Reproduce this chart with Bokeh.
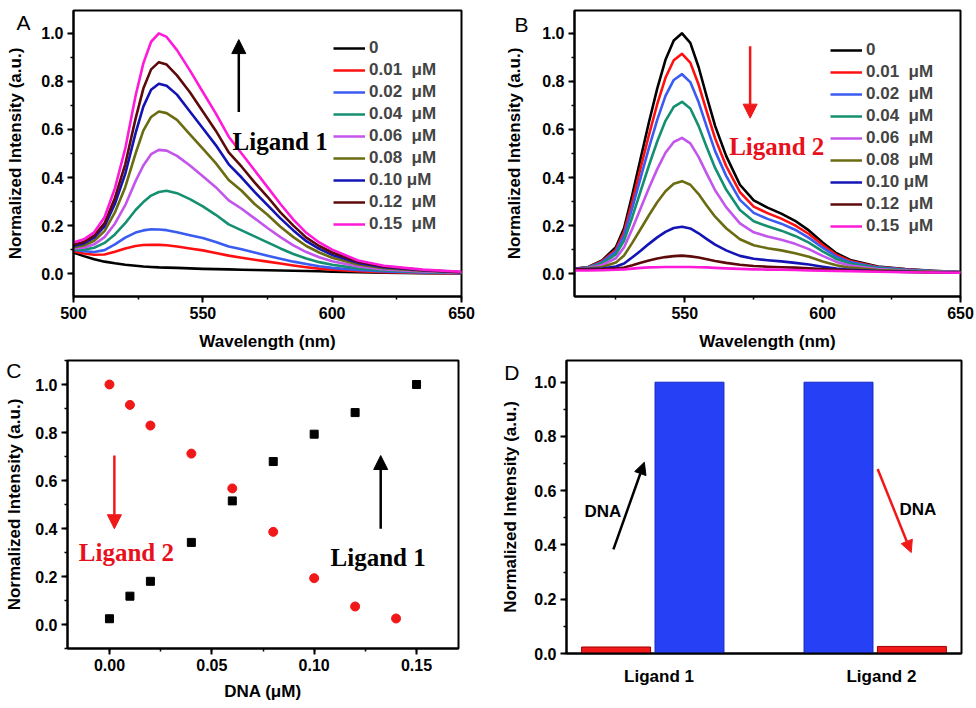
from bokeh.plotting import figure
from bokeh.layouts import column, row
from bokeh.models import (Range1d, SingleIntervalTicker, FixedTicker, NumeralTickFormatter, LinearAxis,
                          Label, Arrow, NormalHead, Legend, LegendItem, ColumnDataSource)
from bokeh.transform import dodge
from bokeh.embed import file_html
from bokeh.resources import INLINE

SANS = "Liberation Sans"
SERIF = "Liberation Serif"
Y_TITLE = "Normalized Intensity (a.u.)"

# ---------------- data ----------------
conc_labels = ["0", "0.01\u00a0\u00a0μM", "0.02\u00a0\u00a0μM", "0.04\u00a0\u00a0μM", "0.06\u00a0\u00a0μM",
               "0.08\u00a0\u00a0μM", "0.10 μM", "0.12\u00a0\u00a0μM", "0.15\u00a0\u00a0μM"]
curve_colors = ["#000000", "#ff1010", "#3a5cf0", "#149070", "#c455ec",
                "#6b6b12", "#1414b4", "#5c0a0a", "#ff1ad9"]

# Panel A: Ligand 1 spectra
wl_a = [500, 504, 508, 512, 516, 520, 524, 527, 530, 533, 536, 540, 545, 550,
        555, 560, 565, 570, 575, 580, 585, 590, 595, 600, 610, 620, 635, 650]
a_000 = [0.088, 0.073, 0.06, 0.05, 0.043, 0.037, 0.033, 0.03, 0.028, 0.026, 0.025, 0.024, 0.022, 0.02,
         0.019, 0.018, 0.016, 0.015, 0.014, 0.013, 0.012, 0.011, 0.01, 0.008, 0.006, 0.004, 0.002, 0.001]
a_001 = [0.092, 0.084, 0.079, 0.08, 0.091, 0.105, 0.115, 0.119, 0.12, 0.12, 0.118, 0.113, 0.105, 0.097,
         0.086, 0.075, 0.066, 0.058, 0.05, 0.042, 0.034, 0.027, 0.021, 0.017, 0.01, 0.006, 0.003, 0.001]
a_002 = [0.10, 0.093, 0.09, 0.098, 0.122, 0.15, 0.171, 0.18, 0.185, 0.184, 0.181, 0.172, 0.16, 0.148,
         0.132, 0.113, 0.102, 0.088, 0.075, 0.062, 0.05, 0.04, 0.031, 0.024, 0.015, 0.009, 0.005, 0.002]
a_004 = [0.10, 0.10, 0.108, 0.128, 0.163, 0.21, 0.265, 0.298, 0.325, 0.34, 0.345, 0.335, 0.31, 0.28,
         0.245, 0.205, 0.18, 0.155, 0.13, 0.105, 0.082, 0.063, 0.048, 0.037, 0.022, 0.013, 0.007, 0.003]
a_006 = [0.105, 0.108, 0.122, 0.152, 0.208, 0.285, 0.385, 0.45, 0.497, 0.515, 0.512, 0.49, 0.45, 0.405,
         0.36, 0.305, 0.27, 0.23, 0.19, 0.152, 0.118, 0.09, 0.068, 0.052, 0.03, 0.018, 0.009, 0.004]
a_008 = [0.11, 0.117, 0.137, 0.177, 0.255, 0.36, 0.5, 0.595, 0.652, 0.675, 0.668, 0.64, 0.58, 0.52,
         0.46, 0.39, 0.345, 0.29, 0.245, 0.195, 0.152, 0.115, 0.088, 0.066, 0.038, 0.023, 0.012, 0.005]
a_010 = [0.115, 0.126, 0.15, 0.197, 0.29, 0.415, 0.585, 0.695, 0.765, 0.79, 0.782, 0.745, 0.675, 0.605,
         0.535, 0.455, 0.4, 0.34, 0.285, 0.23, 0.18, 0.135, 0.103, 0.078, 0.045, 0.027, 0.014, 0.006]
a_012 = [0.12, 0.132, 0.158, 0.21, 0.315, 0.455, 0.645, 0.77, 0.85, 0.88, 0.87, 0.825, 0.755, 0.675,
         0.595, 0.505, 0.445, 0.38, 0.32, 0.255, 0.2, 0.15, 0.115, 0.088, 0.05, 0.03, 0.015, 0.007]
a_015 = [0.13, 0.143, 0.172, 0.235, 0.355, 0.52, 0.74, 0.875, 0.965, 1.0, 0.985, 0.93, 0.846, 0.756,
         0.667, 0.57, 0.50, 0.43, 0.36, 0.29, 0.225, 0.17, 0.13, 0.10, 0.055, 0.033, 0.017, 0.008]

# Panel B: Ligand 2 spectra
wl_b = [510, 515, 520, 525, 528, 531, 534, 537, 540, 543, 546, 549, 552, 555, 558,
        561, 565, 570, 575, 580, 585, 590, 595, 600, 605, 610, 620, 630, 640, 650]
b_000 = [0.02, 0.028, 0.055, 0.11, 0.19, 0.33, 0.48, 0.63, 0.77, 0.89, 0.97, 1.0, 0.96, 0.86, 0.735,
         0.615, 0.49, 0.37, 0.305, 0.275, 0.25, 0.22, 0.18, 0.13, 0.085, 0.057, 0.03, 0.019, 0.012, 0.007]
b_001 = [0.02, 0.027, 0.052, 0.1, 0.175, 0.302, 0.44, 0.577, 0.705, 0.815, 0.888, 0.915, 0.878, 0.787, 0.673,
         0.563, 0.448, 0.339, 0.279, 0.252, 0.229, 0.201, 0.165, 0.119, 0.078, 0.053, 0.028, 0.018, 0.011, 0.007]
b_002 = [0.02, 0.026, 0.048, 0.092, 0.16, 0.275, 0.4, 0.523, 0.64, 0.74, 0.806, 0.83, 0.797, 0.714, 0.61,
         0.51, 0.407, 0.307, 0.253, 0.228, 0.208, 0.183, 0.149, 0.108, 0.071, 0.048, 0.026, 0.017, 0.011, 0.007]
b_004 = [0.02, 0.025, 0.043, 0.08, 0.138, 0.237, 0.344, 0.45, 0.55, 0.636, 0.694, 0.715, 0.687, 0.615, 0.525,
         0.44, 0.35, 0.265, 0.218, 0.197, 0.179, 0.157, 0.129, 0.093, 0.061, 0.042, 0.023, 0.015, 0.01, 0.006]
b_006 = [0.02, 0.023, 0.036, 0.064, 0.11, 0.188, 0.272, 0.356, 0.435, 0.503, 0.548, 0.565, 0.542, 0.486, 0.415,
         0.347, 0.277, 0.209, 0.172, 0.155, 0.141, 0.124, 0.102, 0.074, 0.049, 0.034, 0.019, 0.013, 0.009, 0.006]
b_008 = [0.02, 0.021, 0.028, 0.046, 0.076, 0.129, 0.186, 0.243, 0.297, 0.343, 0.374, 0.385, 0.37, 0.331, 0.283,
         0.237, 0.189, 0.143, 0.118, 0.106, 0.097, 0.085, 0.07, 0.051, 0.035, 0.025, 0.015, 0.011, 0.008, 0.005]
b_010 = [0.02, 0.019, 0.021, 0.03, 0.042, 0.068, 0.095, 0.124, 0.151, 0.174, 0.19, 0.195, 0.188, 0.168, 0.144,
         0.121, 0.097, 0.074, 0.062, 0.056, 0.051, 0.045, 0.038, 0.029, 0.021, 0.016, 0.011, 0.008, 0.006, 0.004]
b_012 = [0.018, 0.017, 0.018, 0.021, 0.026, 0.035, 0.045, 0.055, 0.063, 0.069, 0.073, 0.075, 0.072, 0.067, 0.06,
         0.053, 0.045, 0.037, 0.032, 0.029, 0.027, 0.025, 0.022, 0.019, 0.016, 0.013, 0.01, 0.007, 0.005, 0.004]
b_015 = [0.013, 0.013, 0.014, 0.016, 0.018, 0.021, 0.024, 0.026, 0.027, 0.028, 0.028, 0.028, 0.028, 0.027, 0.026,
         0.024, 0.022, 0.02, 0.018, 0.017, 0.016, 0.015, 0.013, 0.012, 0.011, 0.01, 0.008, 0.006, 0.005, 0.004]

# Panel C: peak intensity vs DNA
dna_lig1 = [0.0, 0.01, 0.02, 0.04, 0.06, 0.08, 0.10, 0.12, 0.15]
int_lig1 = [0.024, 0.118, 0.18, 0.342, 0.515, 0.679, 0.793, 0.883, 1.0]
dna_lig2 = [0.0, 0.01, 0.02, 0.04, 0.06, 0.08, 0.10, 0.12, 0.14]
int_lig2 = [1.0, 0.915, 0.829, 0.712, 0.567, 0.386, 0.193, 0.075, 0.025]

# Panel D: bars
categories = ["Ligand 1", "Ligand 2"]
group_pos = [1, 2]
bar_without_dna = [0.024, 1.0]
bar_with_dna = [1.0, 0.026]
color_without = ["#f01818", "#2540f5"]
color_with = ["#2540f5", "#f01818"]
edge_without = ["#a00000", "#1428c8"]
edge_with = ["#1428c8", "#a00000"]

# ---------------- helpers ----------------
def make_fig(xr, yr, fw, fh, bl, br, bt, bb):
    p = figure(x_range=xr, y_range=yr, frame_width=fw, frame_height=fh,
               min_border_left=bl, min_border_right=br, min_border_top=bt, min_border_bottom=bb,
               output_backend="svg", toolbar_location=None,
               background_fill_color="white", border_fill_color="white")
    p.grid.visible = False
    p.outline_line_color = "black"
    p.outline_line_width = 2
    p.outline_line_alpha = 1
    for ax in p.axis:
        ax.axis_line_width = 2
        ax.major_tick_line_width = 2
        ax.minor_tick_line_width = 1.5
        ax.major_tick_out = 6
        ax.major_tick_in = 0
        ax.minor_tick_out = 3
        ax.minor_tick_in = 0
        ax.major_label_text_font = SANS
        ax.major_label_text_font_style = "bold"
        ax.major_label_text_font_size = "16px"
        ax.major_label_text_color = "black"
        ax.major_label_standoff = 4
        ax.axis_label_text_font = SANS
        ax.axis_label_text_font_style = "bold"
        ax.axis_label_text_font_size = "17px"
        ax.axis_label_text_color = "black"
    return p


def letter_axis(p, letter, y_letter, label_standoff, title_standoff):
    """Outer left axis: carries the panel letter (as its only tick label) and the y title."""
    ax = LinearAxis(ticker=FixedTicker(ticks=[y_letter], minor_ticks=[]),
                    major_label_overrides={y_letter: letter})
    ax.axis_line_color = None
    ax.major_tick_line_color = None
    ax.minor_tick_line_color = None
    ax.major_tick_out = 0
    ax.major_tick_in = 0
    ax.minor_tick_out = 0
    ax.minor_tick_in = 0
    ax.major_label_standoff = label_standoff
    ax.major_label_text_font = SANS
    ax.major_label_text_font_size = "21px"
    ax.major_label_text_font_style = "normal"
    ax.major_label_text_color = "black"
    ax.axis_label = Y_TITLE
    ax.axis_label_standoff = title_standoff
    ax.axis_label_text_font = SANS
    ax.axis_label_text_font_style = "bold"
    ax.axis_label_text_font_size = "17px"
    ax.axis_label_text_color = "black"
    p.add_layout(ax, "left")


def spectra_panel(p, wl, series, legend_loc):
    items = []
    for s, lab, c in zip(series, conc_labels, curve_colors):
        r = p.line(wl, s, line_color=c, line_width=2.6, line_join="round")
        items.append(LegendItem(label=lab, renderers=[r]))
    leg = Legend(items=items, location=legend_loc, glyph_width=32, glyph_height=20,
                 label_height=20, label_standoff=4, spacing=2, padding=2, margin=0,
                 background_fill_alpha=0, border_line_alpha=0,
                 label_text_font=SANS, label_text_font_style="bold", label_text_font_size="17px")
    p.add_layout(leg)


def arrow(p, x0, y0, x1, y1, c, size=14):
    p.add_layout(Arrow(end=NormalHead(size=size, fill_color=c, line_color=c, line_width=1),
                       x_start=x0, y_start=y0, x_end=x1, y_end=y1,
                       line_color=c, line_width=2.5))


def label(p, x, y, text, font=SANS, size="17px", style="bold", color="black"):
    p.add_layout(Label(x=x, y=y, text=text, text_font=font, text_font_size=size,
                       text_font_style=style, text_color=color, text_baseline="alphabetic",
                       text_align="left"))


# ---------------- Panel A ----------------
pA = make_fig(Range1d(500, 650), Range1d(-0.095, 1.095), 388, 286, 73, 20, 10, 58)
pA.xaxis.ticker = SingleIntervalTicker(interval=50, num_minor_ticks=2)
pA.yaxis.ticker = SingleIntervalTicker(interval=0.2, num_minor_ticks=2)
pA.yaxis.formatter = NumeralTickFormatter(format="0.0")
pA.xaxis.axis_label = "Wavelength (nm)"
pA.xaxis.axis_label_standoff = 10
letter_axis(pA, "A", 1.044, 8, -12)
spectra_panel(pA, wl_a, [a_000, a_001, a_002, a_004, a_006, a_008, a_010, a_012, a_015], (258, 60))
arrow(pA, 563.9, 0.673, 563.9, 0.974, "black")
label(pA, 561.5, 0.549, "Ligand 1", font=SERIF, size="25px")

# ---------------- Panel B ----------------
pB = make_fig(Range1d(510, 650), Range1d(-0.095, 1.095), 386, 286, 93, 14, 10, 58)
pB.xaxis.ticker = SingleIntervalTicker(interval=50, num_minor_ticks=2)
pB.yaxis.ticker = SingleIntervalTicker(interval=0.2, num_minor_ticks=2)
pB.yaxis.formatter = NumeralTickFormatter(format="0.0")
pB.xaxis.axis_label = "Wavelength (nm)"
pB.xaxis.axis_label_standoff = 10
letter_axis(pB, "B", 1.037, 11, -13)
spectra_panel(pB, wl_b, [b_000, b_001, b_002, b_004, b_006, b_008, b_010, b_012, b_015], (254, 58))
arrow(pB, 573.7, 0.946, 573.7, 0.647, "#f01818")
label(pB, 566.1, 0.529, "Ligand 2", font=SERIF, size="25px", color="#e8101c")

# ---------------- Panel C ----------------
pC = make_fig(Range1d(-0.0205, 0.1705), Range1d(-0.1, 1.1), 391, 288, 67, 30, 6, 56)
pC.xaxis.ticker = SingleIntervalTicker(interval=0.05, num_minor_ticks=2)
pC.yaxis.ticker = SingleIntervalTicker(interval=0.2, num_minor_ticks=2)
pC.xaxis.formatter = NumeralTickFormatter(format="0.00")
pC.yaxis.formatter = NumeralTickFormatter(format="0.0")
pC.xaxis.axis_label = "DNA (μM)"
pC.xaxis.axis_label_standoff = 8
letter_axis(pC, "C", 1.058, 11, -21)
pC.scatter(dna_lig1, int_lig1, marker="square", size=8, fill_color="black", line_color="black")
pC.scatter(dna_lig2, int_lig2, marker="circle", size=9, fill_color="#f01818", line_color="#f01818")
arrow(pC, 0.0024, 0.704, 0.0024, 0.399, "#f01818")
arrow(pC, 0.1325, 0.399, 0.1325, 0.704, "black")
label(pC, -0.015, 0.301, "Ligand 2", font=SERIF, size="25px", color="#e8101c")
label(pC, 0.108, 0.278, "Ligand 1", font=SERIF, size="25px")

# ---------------- Panel D ----------------
pD = make_fig(Range1d(0.612, 2.388), Range1d(0, 1.08), 395, 293, 78, 13, 3, 54)
pD.yaxis.ticker = SingleIntervalTicker(interval=0.2, num_minor_ticks=2)
pD.yaxis.formatter = NumeralTickFormatter(format="0.0")
letter_axis(pD, "D", 1.035, 12, -19)
label_shift = 0.028
tick_pos = [g + label_shift for g in group_pos]
pD.xaxis.ticker = FixedTicker(ticks=tick_pos, minor_ticks=[])
pD.xaxis.major_label_overrides = {t: c for t, c in zip(tick_pos, categories)}
pD.xaxis.major_label_text_font_size = "17px"
pD.xaxis.major_tick_out = 0
pD.xaxis.minor_tick_out = 0
pD.xaxis.major_label_standoff = 13
src = ColumnDataSource(dict(pos=group_pos, before=bar_without_dna, after=bar_with_dna,
                            cb=color_without, ca=color_with, eb=edge_without, ea=edge_with))
pD.vbar(x=dodge("pos", -0.165), top="before", width=0.31, bottom=0, source=src,
        fill_color="cb", line_color="eb", line_width=1)
pD.vbar(x=dodge("pos", 0.165), top="after", width=0.31, bottom=0, source=src,
        fill_color="ca", line_color="ea", line_width=1)
arrow(pD, 0.823, 0.384, 0.962, 0.705, "black", size=12)
arrow(pD, 2.011, 0.680, 2.162, 0.372, "#f01818", size=12)
label(pD, 0.693, 0.524, "DNA")
label(pD, 2.109, 0.529, "DNA")

layout = column(row(pA, pB), row(pC, pD))
open("out.html", "w").write(file_html(layout, INLINE, "Fluorescence titration"))
